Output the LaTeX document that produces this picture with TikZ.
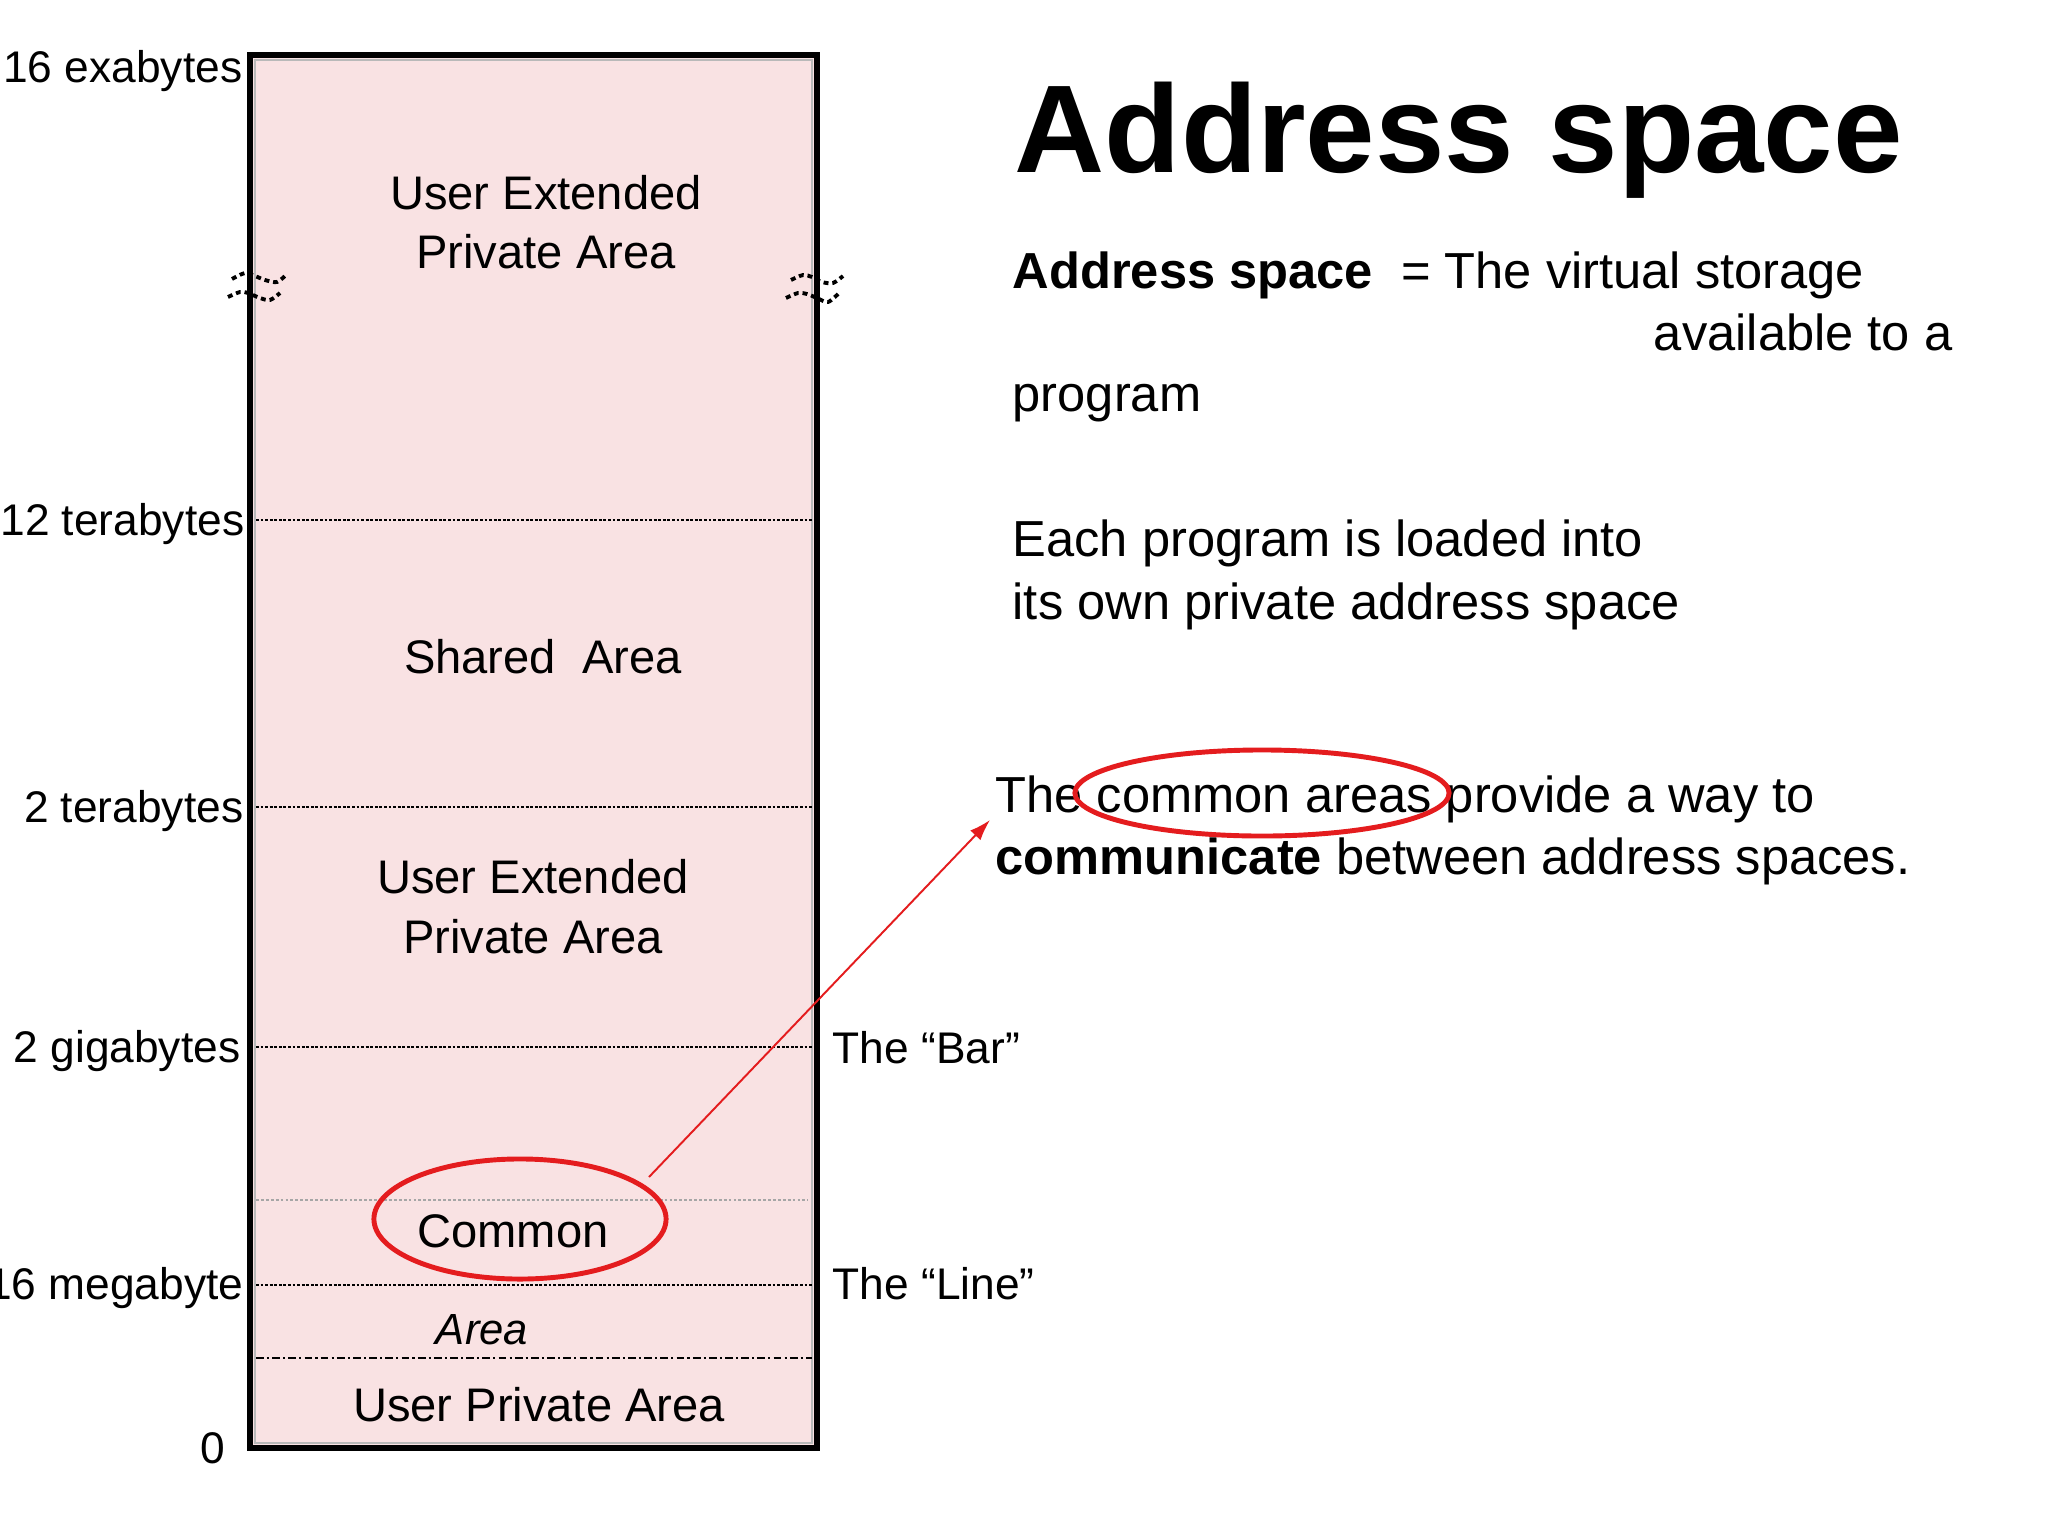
\documentclass[tikz,border=0pt]{standalone}
\usepackage{fontspec}
\setmainfont{Liberation Sans}
\usetikzlibrary{shapes.geometric,arrows.meta}
\definecolor{pinkfill}{RGB}{249,226,227}
\definecolor{ringred}{RGB}{228,28,30}
\begin{document}
\begin{tikzpicture}[x=0.01cm,y=-0.01cm,
  inlabel/.style={font=\fontsize{13.4pt}{16pt}\selectfont, anchor=base, inner sep=0},
  sidelabel/.style={font=\fontsize{12.6pt}{15pt}\selectfont, inner sep=0},
  bodytext/.style={font=\fontsize{14.4pt}{17pt}\selectfont, inner sep=0, anchor=base west},
  ring/.style={draw=ringred, line width=1.4pt, ellipse, inner sep=0, outer sep=0},
  levelline/.style={line width=0.55pt, dash pattern=on 0.8pt off 0.5pt},
  faintline/.style={line width=0.45pt, gray!70, dash pattern=on 0.8pt off 0.6pt},
  dashdotline/.style={line width=0.7pt, dash pattern=on 2.2pt off 0.9pt on 0.6pt off 0.9pt},
  breakmark/.style={line width=1.1pt, dash pattern=on 1.4pt off 1.1pt}
]
\useasboundingbox (0,0) rectangle (2048,1536);
\clip (0,0) rectangle (2048,1536);
\fill[white] (0,0) rectangle (2048,1536);

% memory column
\fill[pinkfill] (250,55) rectangle (817,1448);
\draw[gray!55, line width=0.8pt] (255,60) rectangle (812,1443);

% level lines
\draw[levelline] (256,520) -- (812,520);
\draw[levelline] (256,807) -- (812,807);
\draw[levelline] (256,1047) -- (812,1047);
\draw[faintline] (256,1200) -- (808,1200);
\draw[levelline] (256,1285) -- (812,1285);
\draw[dashdotline] (256,1358) -- (812,1358);

\draw[line width=1.5pt] (250,55) rectangle (817,1448);

% break marks
\draw[breakmark] plot[smooth] coordinates {(232,279) (245,273) (255,276) (265,280) (277,282) (287,274)};
\draw[breakmark] plot[smooth] coordinates {(228,297) (240,292) (248,293) (260,298) (270,300) (280,293)};
\draw[breakmark] plot[smooth] coordinates {(791,280) (803,275) (812,277) (822,282) (833,283) (843,276)};
\draw[breakmark] plot[smooth] coordinates {(786,298) (798,293) (807,294) (817,298) (828,302) (839,293)};

% left scale labels
\node[sidelabel, anchor=base east] (l16e) at (243,82) {16 exabytes};
\node[sidelabel, anchor=base east] (l12t) at (245,535) {12 terabytes};
\node[sidelabel, anchor=base east] (l2t) at (244,822) {2 terabytes};
\node[sidelabel, anchor=base east] (l2g) at (241,1062) {2 gigabytes};
\node[sidelabel, anchor=base east] (l16m) at (244,1299) {16 megabyte};
\node[sidelabel, anchor=base east] (l0) at (226,1463) {0};

% right scale labels
\node[sidelabel, anchor=base west] (bar) at (832,1063) {The “Bar”};
\node[sidelabel, anchor=base west] (line) at (832,1299) {The “Line”};

% area labels
\node[inlabel] (uepa1a) at (546,209) {User Extended};
\node[inlabel] (uepa1b) at (546,268) {Private Area};
\node[inlabel] (shared) at (543,673) {Shared\ \ Area};
\node[inlabel] (uepa2a) at (533,893) {User Extended};
\node[inlabel] (uepa2b) at (533,953) {Private Area};
\node[inlabel] (common) at (513,1247) {Common};
\node[inlabel, font=\fontsize{12.4pt}{15pt}\selectfont\itshape] (area) at (482,1344) {Area};
\node[inlabel] (upa) at (539,1421) {User Private Area};

% right-hand text
\node[anchor=base west, inner sep=0, font=\fontsize{35.5pt}{40pt}\selectfont\bfseries] (title) at (1014,172) {Address space};
\node[bodytext] (def1) at (1012,288) {\textbf{Address space}\ \ = The virtual storage};
\node[bodytext, anchor=base east] (def2) at (1953,350) {available to a};
\node[bodytext] (def3) at (1012,411) {program};
\node[bodytext] (each1) at (1012,556) {Each program is loaded into};
\node[bodytext] (each2) at (1012,619) {its own private address space};
\node[bodytext] (comm1) at (995,812) {The common areas provide a way to};
\node[bodytext] (comm2) at (995,874) {\textbf{communicate} between address spaces.};

% highlight rings
\node[ring, minimum width=2.92cm, minimum height=1.2cm] (ringlow) at (520,1219) {};
\node[ring, minimum width=3.74cm, minimum height=0.86cm] (ringhigh) at (1262,793) {};

% arrow
\coordinate (arrowstart) at (649,1177);
\coordinate (arrowend) at (990,820);
\draw[ringred, line width=0.55pt, -{Latex[length=6pt,width=4pt]}] (arrowstart) -- (arrowend);
\end{tikzpicture}
\end{document}
